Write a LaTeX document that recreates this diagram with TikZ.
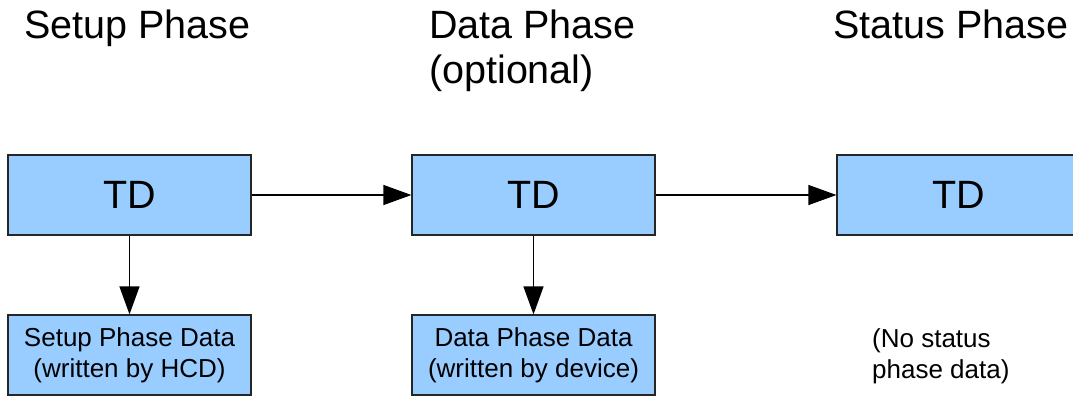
\documentclass[tikz,border=0pt]{standalone}
\usepackage{fontspec}
\setmainfont{Liberation Sans}
\usetikzlibrary{arrows.meta}
\definecolor{boxblue}{HTML}{99CCFF}
\tikzset{
  tdbox/.style={draw=black!85, line width=1.2pt, fill=boxblue, minimum width=243pt, minimum height=80pt, inner sep=0pt, font=\fontsize{39.5}{45}\selectfont},
  databox/.style={draw=black!85, line width=1.2pt, fill=boxblue, minimum width=243pt, minimum height=80pt, inner sep=0pt, align=center, font=\fontsize{26}{31}\selectfont},
  title/.style={anchor=base west, inner sep=0pt, align=left, font=\fontsize{39.5}{45}\selectfont},
  conn/.style={line width=1.2pt, -{Triangle[length=28pt, width=20pt]}}
}
\begin{document}
\begin{tikzpicture}[x=1pt, y=-1pt]
\clip (0,0) rectangle (1073,396);
\fill[white] (0,0) rectangle (1073,396);
\node[title] (t1) at (24,38) {Setup Phase};
\node[title] (t2) at (429,83) {Data Phase\\(optional)};
\node[title] (t3) at (833,38) {Status Phase};
\node[tdbox] (td1) at (129.5,195) {TD};
\node[tdbox] (td2) at (533.5,195) {TD};
\node[tdbox] (td3) at (958.5,195) {TD};
\node[databox] (d1) at (129.5,355) {Setup Phase Data\hspace{6pt}\\(written by HCD)};
\node[databox] (d2) at (533.5,355) {Data Phase Data\hspace{6pt}\\(written by device)\hspace{3pt}};
\node[anchor=base west, inner sep=0pt, align=left, font=\fontsize{26}{31}\selectfont] (d3) at (872,378) {(No status\\phase data)};
\draw[conn] (td1) -- (td2);
\draw[conn] (td2) -- (td3);
\draw[conn] (td1) -- (d1);
\draw[conn] (td2) -- (d2);
\end{tikzpicture}
\end{document}
